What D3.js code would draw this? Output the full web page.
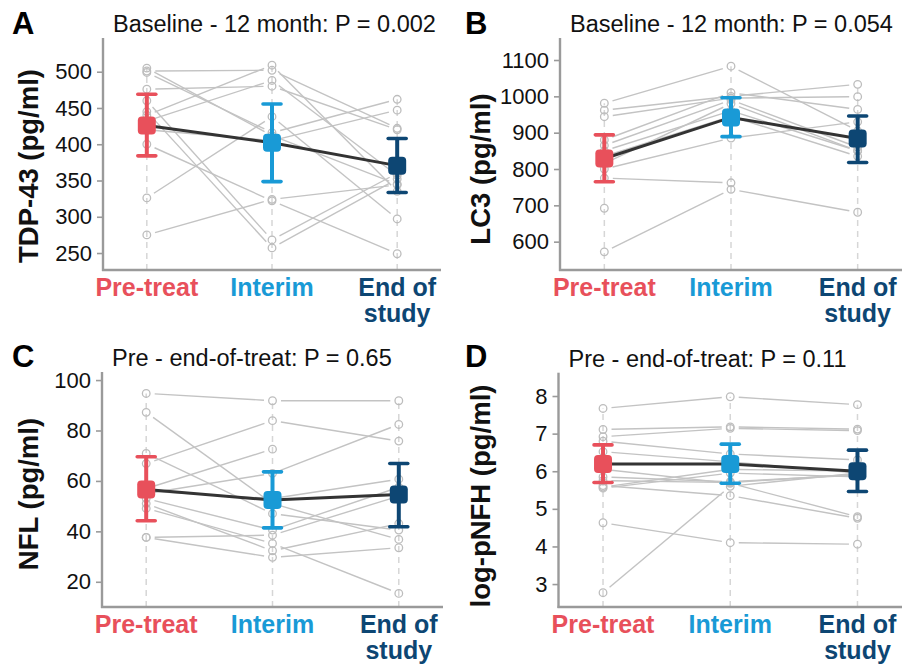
<!DOCTYPE html>
<html><head><meta charset="utf-8">
<script src="https://cdn.jsdelivr.net/npm/d3@7"></script>
<style>body{margin:0;background:#fff}svg{display:block}text{font-family:"Liberation Sans",Arial,Helvetica,sans-serif}</style>
</head><body><svg id="c" width="903" height="665"></svg>
<script>
// ---------- data ----------
const categories = ["Pre-treat", "Interim", "End of study"];
const categoryLines = [["Pre-treat"], ["Interim"], ["End of", "study"]];

// Panel A: TDP-43 (pg/ml), per subject
const tdpPre     = [501, 505, 499, 476, 440, 432, 460, 420, 400, 326, 275, 445];
const tdpInterim = [502, 412, 416, 480, 509, 488, 268, 405, 322, 438, 324, 257];
const tdpEnd     = [422, 345, 462, 420, 335, 357, 360, 447, 249, 297, 344, 352];
const tdpMean = [426, 402, 370.5];
const tdpLow  = [384, 348.5, 333.5];
const tdpHigh = [469, 455.5, 408];
const tdpTicks = [250, 300, 350, 400, 450, 500];

// Panel B: LC3 (pg/ml)
const lc3Pre     = [981, 962, 944, 880, 865, 850, 835, 815, 800, 775, 572, 692];
const lc3Interim = [1083, 1000, 995, 1010, 990, 960, 945, 980, 885, 762, 744, null];
const lc3End     = [905, 1033, 999, 964, 860, 850, 835, 850, 930, null, 681, null];
const lc3Mean = [829, 942, 884];
const lc3Low  = [765, 889, 818];
const lc3High = [894, 996, 946];
const lc3Ticks = [600, 700, 800, 900, 1000, 1100];

// Panel C: NFL (pg/ml)
const nflPre     = [94.7, 87.2, 66.9, 57.0, 55.0, 70.9, 53.0, 51.0, 49.1, 56.0, 37.6, 37.6];
const nflInterim = [91.8, 51.0, 83.9, 72.6, 63.0, 47.0, 40.5, 32.3, 35.2, 53.0, 38.5, 29.7];
const nflEnd     = [91.8, 36.8, 75.8, null, 82.4, 40.5, 57.5, 43.1, 15.4, 60.7, 54.0, 33.5];
const nflMean = [56.6, 52.4, 54.6];
const nflLow  = [44.2, 41.4, 41.8];
const nflHigh = [69.6, 63.6, 66.9];
const nflTicks = [20, 40, 60, 80, 100];

// Panel D: log-pNFH (pg/ml)
const pnfhPre     = [7.67, 7.11, 6.92, 6.80, 6.52, 5.85, 5.75, 5.58, 5.55, 4.63, 2.77, 5.62, 6.05];
const pnfhInterim = [7.98, 7.18, 7.14, 6.46, 6.25, 5.72, 5.70, 6.05, 5.95, 4.10, 5.60, 5.35, 5.68];
const pnfhEnd     = [7.77, 7.12, 7.08, 6.30, 5.95, 5.90, 5.92, 6.00, 5.85, 4.06, 5.95, 4.75, 4.79];
const pnfhMean = [6.19, 6.19, 6.00];
const pnfhLow  = [5.70, 5.68, 5.46];
const pnfhHigh = [6.70, 6.72, 6.56];
const pnfhTicks = [3, 4, 5, 6, 7, 8];

const titles = ["Baseline - 12 month: P = 0.002", "Baseline - 12 month: P = 0.054",
                "Pre - end-of-treat: P = 0.65", "Pre - end-of-treat: P = 0.11"];
const yLabels = ["TDP-43 (pg/ml)", "LC3 (pg/ml)", "NFL (pg/ml)", "log-pNFH (pg/ml)"];
const letters = ["A", "B", "C", "D"];

// ---------- layout / style ----------
const catColors = ["#E8505B", "#199AD6", "#0D4673"];
const panels = [
  {series:[tdpPre, tdpInterim, tdpEnd], mean:tdpMean, lo:tdpLow, hi:tdpHigh, ticks:tdpTicks,
   domain:[226.6, 546.5], x0:103, x1:441, top:38, bottom:270, labX:38, labY:166, letX:12, letY:34},
  {series:[lc3Pre, lc3Interim, lc3End], mean:lc3Mean, lo:lc3Low, hi:lc3High, ticks:lc3Ticks,
   domain:[522, 1160.6], x0:560, x1:902, top:38, bottom:270, labX:490, labY:169, letX:465, letY:34},
  {series:[nflPre, nflInterim, nflEnd], mean:nflMean, lo:nflLow, hi:nflHigh, ticks:nflTicks,
   domain:[10, 103.2], x0:102, x1:443, top:372, bottom:607, labX:38, labY:494, letX:12, letY:367},
  {series:[pnfhPre, pnfhInterim, pnfhEnd], mean:pnfhMean, lo:pnfhLow, hi:pnfhHigh, ticks:pnfhTicks,
   domain:[2.39, 8.62], x0:558.5, x1:902, top:372.7, bottom:607, labX:490, labY:496, letX:465, letY:367}
];

const svg = d3.select("#c");
const axisColor = "#9a9a9a";

panels.forEach((p, pi) => {
  const g = svg.append("g");
  const x = d3.scalePoint().domain(categories).range([p.x0, p.x1]).padding(0.35);
  const y = d3.scaleLinear().domain(p.domain).range([p.bottom, p.top]);

  // dashed guides
  categories.forEach((c, ci) => {
    const vals = p.series[ci].filter(v => v != null);
    g.append("line").attr("x1", x(c)).attr("x2", x(c))
      .attr("y1", p.bottom).attr("y2", y(d3.max(vals)))
      .attr("stroke", "#d6d6d6").attr("stroke-width", 1.5).attr("stroke-dasharray", "6,5");
  });

  // subject lines (shortened at ends)
  const n = p.series[0].length;
  const gap = 8.5;
  for (let s = 0; s < n; s++) {
    for (let ci = 0; ci < 2; ci++) {
      const a = p.series[ci][s], b = p.series[ci + 1][s];
      if (a == null || b == null) continue;
      const xa = x(categories[ci]), ya = y(a), xb = x(categories[ci + 1]), yb = y(b);
      const L = Math.hypot(xb - xa, yb - ya), ux = (xb - xa) / L, uy = (yb - ya) / L;
      g.append("line").attr("x1", xa + ux * gap).attr("y1", ya + uy * gap)
        .attr("x2", xb - ux * gap).attr("y2", yb - uy * gap)
        .attr("stroke", "#c3c3c3").attr("stroke-width", 1.4);
    }
  }
  // subject points
  categories.forEach((c, ci) => {
    g.selectAll(null).data(p.series[ci].filter(v => v != null)).enter().append("circle")
      .attr("cx", x(c)).attr("cy", d => y(d)).attr("r", 3.8)
      .attr("fill", "none").attr("stroke", "#bdbdbd").attr("stroke-width", 1.3);
  });

  // axes
  const yAxis = d3.axisLeft(y).tickValues(p.ticks).tickSize(6).tickPadding(5).tickFormat(d3.format("d"));
  const ya = g.append("g").attr("transform", `translate(${p.x0},0)`).call(yAxis);
  ya.select(".domain").remove();
  ya.selectAll(".tick line").attr("stroke", axisColor).attr("stroke-width", 1.6);
  ya.selectAll(".tick text").attr("font-size", 22).attr("fill", "#111")
    .attr("font-family", '"Liberation Sans",Arial,sans-serif');
  g.append("line").attr("x1", p.x0).attr("x2", p.x0).attr("y1", p.top).attr("y2", p.bottom + 1)
    .attr("stroke", axisColor).attr("stroke-width", 2.4);
  g.append("line").attr("x1", p.x0 - 1).attr("x2", p.x1).attr("y1", p.bottom).attr("y2", p.bottom)
    .attr("stroke", axisColor).attr("stroke-width", 2.4);

  // mean line
  const line = d3.line().x((d, i) => x(categories[i])).y(d => y(d));
  g.append("path").datum(p.mean).attr("d", line).attr("fill", "none")
    .attr("stroke", "#333").attr("stroke-width", 3);

  // error bars + mean squares
  categories.forEach((c, ci) => {
    const cx = x(c), col = catColors[ci];
    g.append("line").attr("x1", cx).attr("x2", cx).attr("y1", y(p.lo[ci])).attr("y2", y(p.hi[ci]))
      .attr("stroke", col).attr("stroke-width", 4);
    [p.lo[ci], p.hi[ci]].forEach(v => {
      g.append("line").attr("x1", cx - 9).attr("x2", cx + 9).attr("y1", y(v)).attr("y2", y(v))
        .attr("stroke", col).attr("stroke-width", 3.6).attr("stroke-linecap", "round");
    });
    g.append("rect").attr("x", cx - 9).attr("y", y(p.mean[ci]) - 9).attr("width", 18).attr("height", 18)
      .attr("rx", 4).attr("fill", col);
  });

  // category labels
  categories.forEach((c, ci) => {
    categoryLines[ci].forEach((ln, li) => {
      g.append("text").attr("x", x(c)).attr("y", p.bottom + 26 + li * 25.5)
        .attr("text-anchor", "middle").attr("font-size", 25).attr("font-weight", "bold")
        .attr("fill", catColors[ci]).text(ln);
    });
  });

  // title
  g.append("text").attr("x", p.x0 + 10).attr("y", p.top - 6).attr("font-size", 23.5)
    .attr("fill", "#111").text(titles[pi]);
  // y label
  g.append("text").attr("transform", `translate(${p.labX},${p.labY}) rotate(-90)`)
    .attr("text-anchor", "middle").attr("font-size", 27.5).attr("font-weight", "bold")
    .attr("fill", "#111").text(yLabels[pi]);
  // panel letter
  g.append("text").attr("x", p.letX).attr("y", p.letY).attr("font-size", 31)
    .attr("font-weight", "bold").attr("fill", "#000").text(letters[pi]);
});
</script></body></html>
